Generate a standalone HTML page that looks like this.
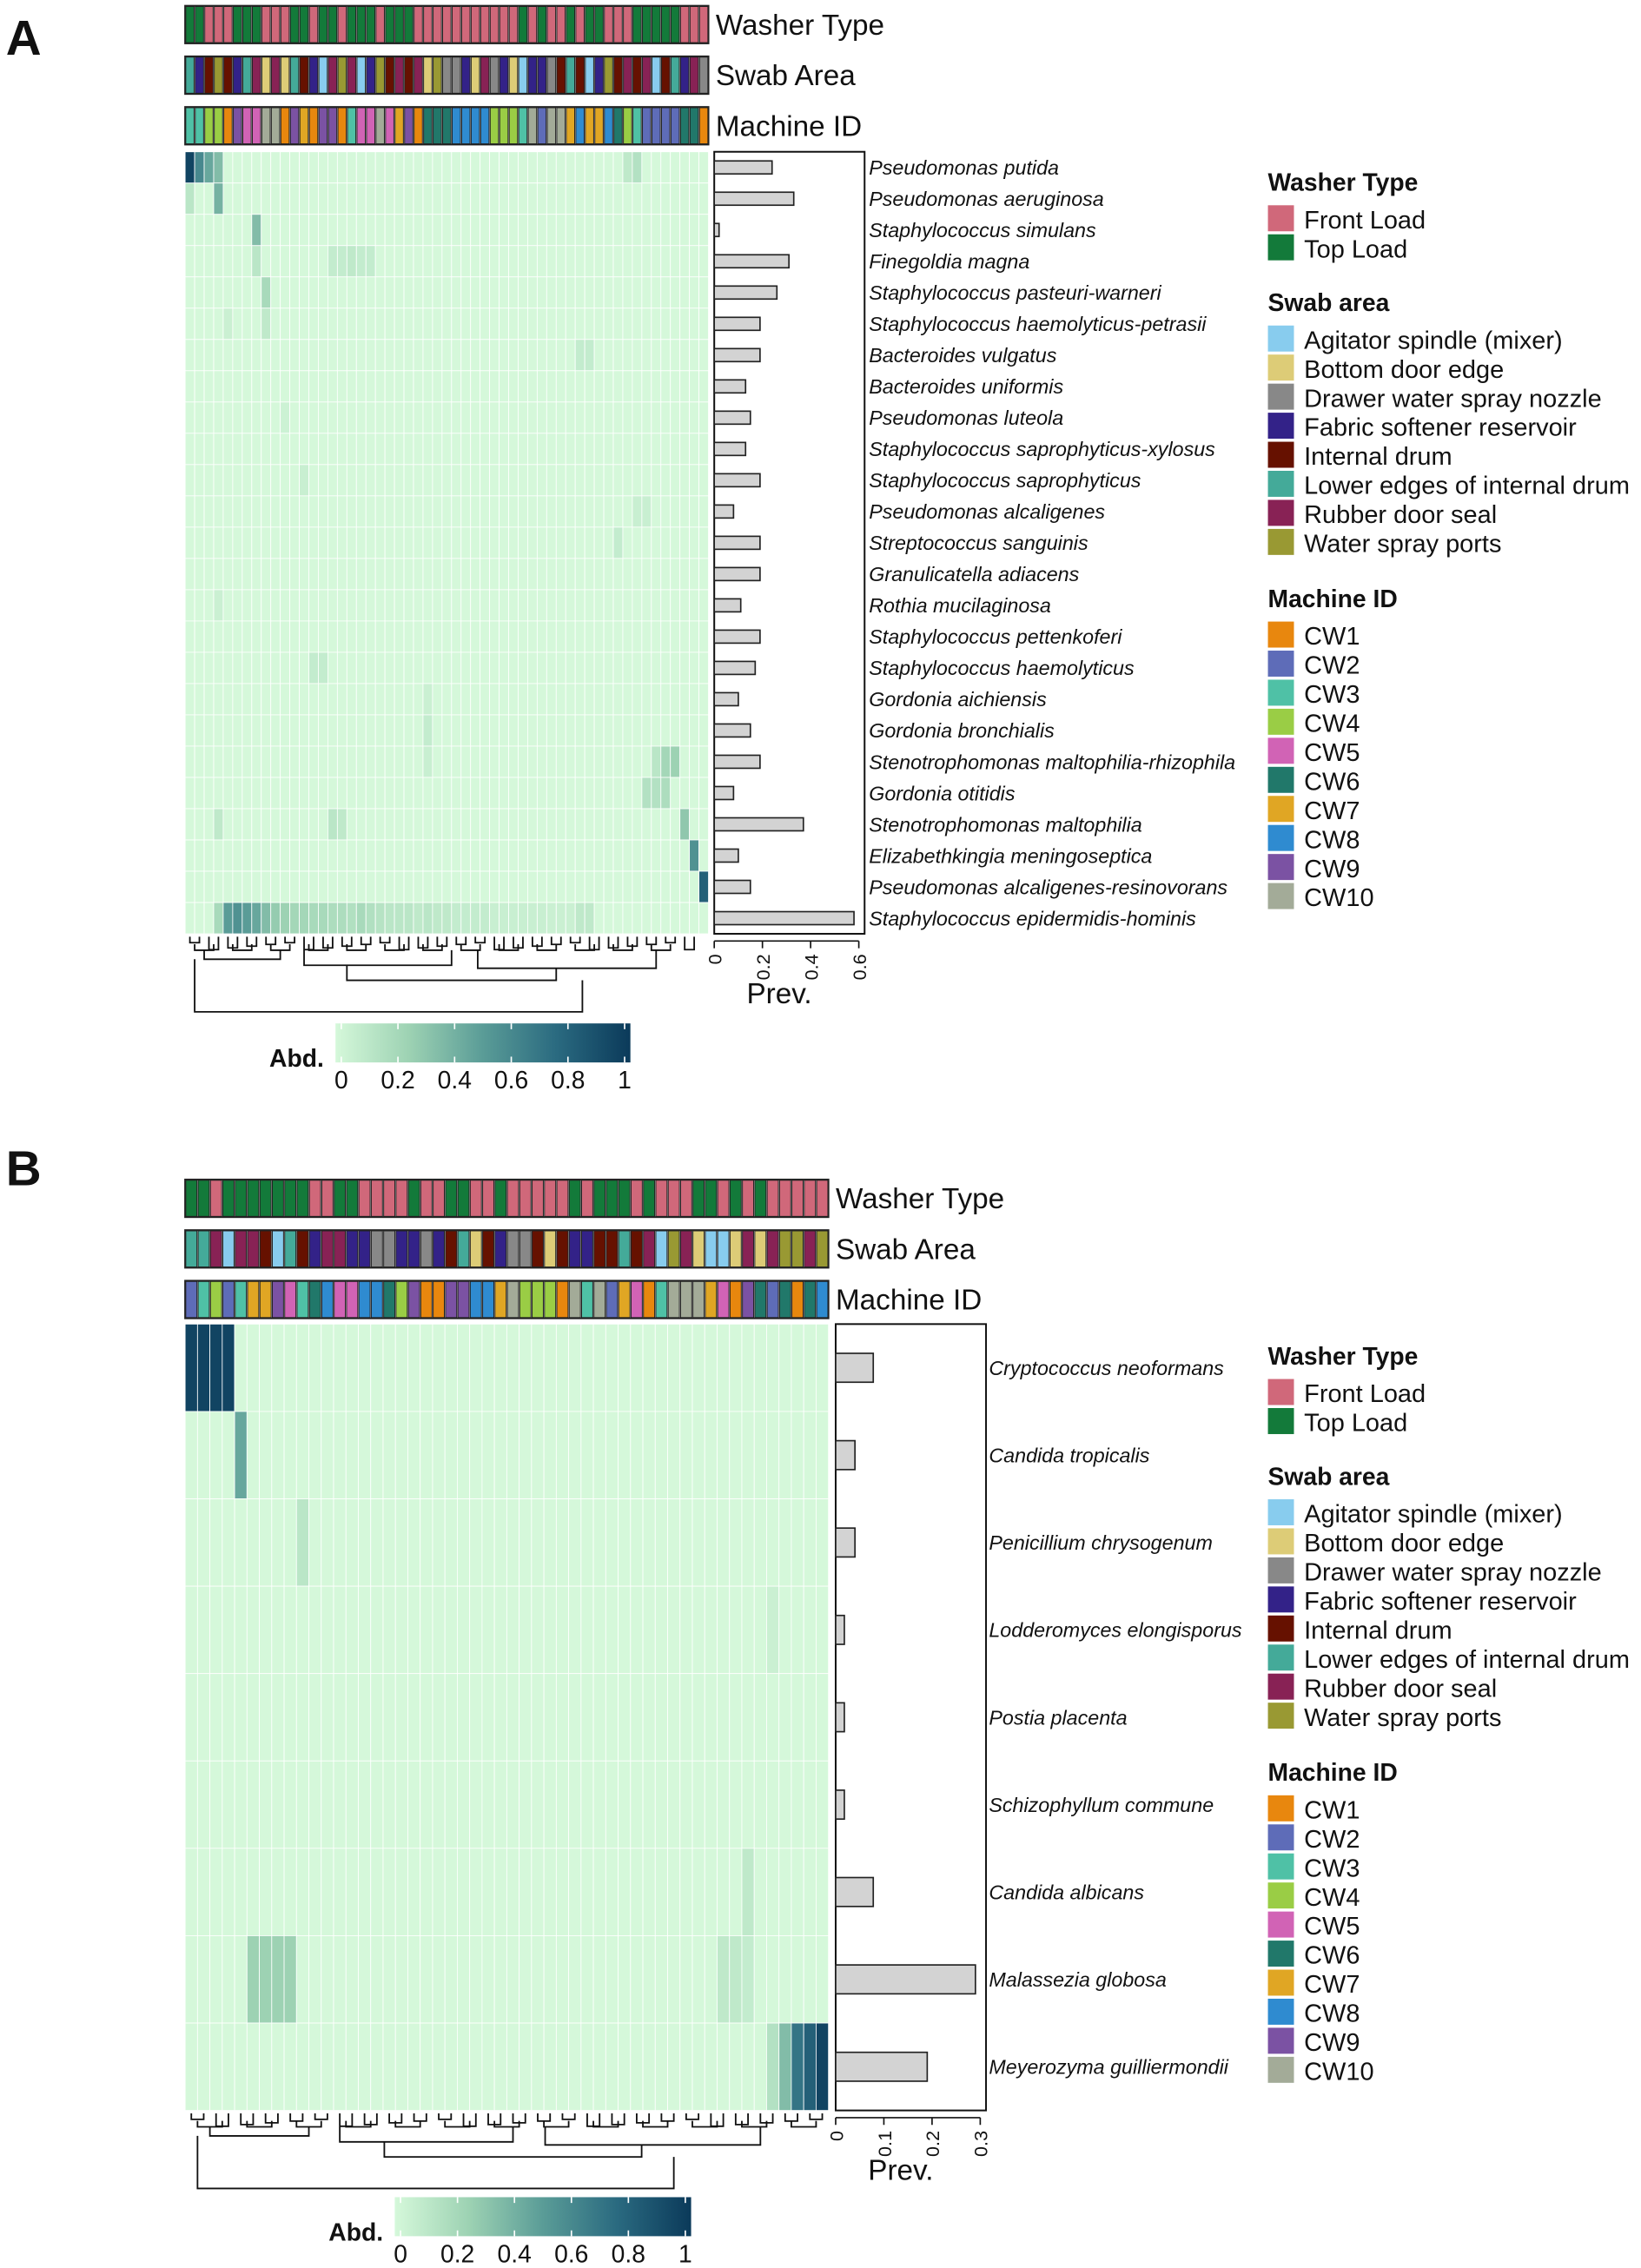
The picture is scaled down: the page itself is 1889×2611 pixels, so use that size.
<!DOCTYPE html>
<html><head><meta charset="utf-8"><style>
html,body{margin:0;padding:0;background:#fff}
svg{display:block}
text{font-family:"Liberation Sans",sans-serif}
</style></head><body>
<svg id="fig" width="1889" height="2611" viewBox="0 0 1135 1569" xmlns="http://www.w3.org/2000/svg">
<defs><linearGradient id="cmap" x1="0" x2="1" y1="0" y2="0">
<stop offset="0" stop-color="#d5f8da"/><stop offset="0.25" stop-color="#9dd2b3"/><stop offset="0.5" stop-color="#5a9c97"/><stop offset="0.75" stop-color="#2a6a80"/><stop offset="1" stop-color="#0b3a5a"/></linearGradient></defs>
<g id="root"></g>
</svg>
<script>
// ---------- data ----------
const speciesA=["Pseudomonas putida","Pseudomonas aeruginosa","Staphylococcus simulans","Finegoldia magna","Staphylococcus pasteuri-warneri","Staphylococcus haemolyticus-petrasii","Bacteroides vulgatus","Bacteroides uniformis","Pseudomonas luteola","Staphylococcus saprophyticus-xylosus","Staphylococcus saprophyticus","Pseudomonas alcaligenes","Streptococcus sanguinis","Granulicatella adiacens","Rothia mucilaginosa","Staphylococcus pettenkoferi","Staphylococcus haemolyticus","Gordonia aichiensis","Gordonia bronchialis","Stenotrophomonas maltophilia-rhizophila","Gordonia otitidis","Stenotrophomonas maltophilia","Elizabethkingia meningoseptica","Pseudomonas alcaligenes-resinovorans","Staphylococcus epidermidis-hominis"];
const prevA=[0.24,0.33,0.02,0.31,0.26,0.19,0.19,0.13,0.15,0.13,0.19,0.08,0.19,0.19,0.11,0.19,0.17,0.10,0.15,0.19,0.08,0.37,0.10,0.15,0.58];
const washerA="GGPPPGGGPPPGGPGGPGGGPGGGPPPPPPPPPPPGPGPPGPGGPPPGGGGGPPP";
const swabA="LFIWIFLRBRBLIFARWRAFWIRIRBWDDFBRDFBAFFDILIAFWIRIRAILFRD";
const machA=[3,3,4,4,1,9,5,5,10,10,1,9,7,1,9,9,1,3,5,5,10,5,7,9,1,6,6,6,8,8,8,8,4,4,4,3,10,2,10,10,7,8,7,7,8,6,4,3,2,2,2,2,6,6,1];
// sparse abundance: [row, col, value]
const abdA=[[0,0,0.95],[0,1,0.6],[0,2,0.45],[0,3,0.35],[0,46,0.1],[0,47,0.15],[1,0,0.12],[1,3,0.4],[2,7,0.35],[3,7,0.12],[3,15,0.08],[3,16,0.08],[3,17,0.1],[3,18,0.08],[3,19,0.08],[4,8,0.2],[5,8,0.1],[5,4,0.05],[6,41,0.08],[6,42,0.08],[8,10,0.04],[10,12,0.06],[11,47,0.06],[11,48,0.06],[12,45,0.08],[14,3,0.05],[16,13,0.08],[16,14,0.08],[17,25,0.05],[18,25,0.08],[19,25,0.06],[19,49,0.12],[19,50,0.22],[19,51,0.25],[20,48,0.15],[20,49,0.15],[20,50,0.18],[21,3,0.1],[21,15,0.12],[21,16,0.1],[21,52,0.3],[22,53,0.55],[23,54,0.8],[24,3,0.2],[24,4,0.5],[24,5,0.55],[24,6,0.5],[24,7,0.45],[24,8,0.35],[24,9,0.28],[24,10,0.25],[24,11,0.22],[24,12,0.22],[24,13,0.2],[24,14,0.2],[24,15,0.18],[24,16,0.18],[24,17,0.16],[24,18,0.2],[24,19,0.16],[24,20,0.14],[24,21,0.12],[24,22,0.12],[24,23,0.12],[24,24,0.1],[24,25,0.12],[24,26,0.1],[24,27,0.1],[24,28,0.08],[24,29,0.08],[24,30,0.08],[24,31,0.08],[24,32,0.06],[24,33,0.06],[24,34,0.06],[24,35,0.06],[24,36,0.06],[24,37,0.06],[24,38,0.05],[24,39,0.05],[24,40,0.05],[24,41,0.1],[24,42,0.1]];
const speciesB=["Cryptococcus neoformans","Candida tropicalis","Penicillium chrysogenum","Lodderomyces elongisporus","Postia placenta","Schizophyllum commune","Candida albicans","Malassezia globosa","Meyerozyma guilliermondii"];
const prevB=[0.078,0.04,0.04,0.018,0.018,0.018,0.078,0.29,0.19];
const washerB="GGPGGGGGGGPPGGPPPPGPPGGPPGPPPPPGPGGGPGPPPGGPGPGPPPPP";
const swabB="LLRARRIALIFRRFFDDFFDFILBIFDDIBIFFIILIRAWRBAABRBRWWRW";
const machB=[2,3,4,2,3,7,7,9,5,3,6,8,5,5,8,8,6,4,9,1,1,9,9,8,8,7,10,4,4,4,1,10,3,10,2,7,5,1,3,10,10,10,7,5,1,9,6,2,6,1,6,8];
const abdB=[[0,0,0.95],[0,1,0.95],[0,2,0.95],[0,3,0.95],[1,4,0.45],[2,9,0.12],[3,47,0.05],[6,45,0.1],[7,5,0.25],[7,6,0.25],[7,7,0.25],[7,8,0.25],[7,43,0.1],[7,44,0.1],[7,45,0.08],[8,47,0.15],[8,48,0.35],[8,49,0.7],[8,50,0.8],[8,51,0.95]];
const cbTicks=[0,0.2,0.4,0.6,0.8,1];
const prevTicksA=[0,0.2,0.4,0.6];
const prevTicksB=[0,0.1,0.2,0.3];
const washerLeg=[["Front Load","#d0687a"],["Top Load","#137a3a"]];
const swabLeg=[["A","Agitator spindle (mixer)","#88ccee"],["B","Bottom door edge","#ddcc77"],["D","Drawer water spray nozzle","#888888"],["F","Fabric softener reservoir","#332288"],["I","Internal drum","#661100"],["L","Lower edges of internal drum","#44aa99"],["R","Rubber door seal","#882255"],["W","Water spray ports","#999933"]];
const machCols=["#e8870e","#5e6cb8","#4fc1a6","#9acd45","#d163b5","#21786a","#e0a624","#2f8bd0","#7b52a3","#a3ab98"];

// ---------- helpers ----------
const NS="http://www.w3.org/2000/svg";
const root=document.getElementById('root');
function mk(tag,attrs,parent,txt){const e=document.createElementNS(NS,tag);for(const k in attrs)e.setAttribute(k,attrs[k]);if(txt!==undefined)e.textContent=txt;(parent||root).appendChild(e);return e;}
const stops=[[0,[213,248,218]],[0.25,[157,210,179]],[0.5,[90,156,151]],[0.75,[42,106,128]],[1,[11,58,90]]];
function cmap(v){v=Math.max(0,Math.min(1,v));for(let i=1;i<stops.length;i++){if(v<=stops[i][0]){const a=stops[i-1],b=stops[i];const t=(v-a[0])/(b[0]-a[0]);const c=a[1].map((x,j)=>Math.round(x+(b[1][j]-x)*t));return `rgb(${c})`;}}return 'rgb(11,58,90)';}
const swabCol={};swabLeg.forEach(s=>swabCol[s[0]]=s[2]);

function panel(cfg){
  const g=mk('g',{});
  
  
  const n=cfg.washer.length, cw=(cfg.x1-cfg.x0)/n, nr=cfg.species.length, rh=(cfg.y1-cfg.y0)/nr;
  const xCol=c=>cfg.x0+c*cw, yRow=r=>cfg.y0+r*rh;
  const ann=[["washer-type-track","Washer Type",c=>cfg.washer[c]==="G"?"#137a3a":"#d0687a"],["swab-area-track","Swab Area",c=>swabCol[cfg.swab[c]]],["machine-id-track","Machine ID",c=>machCols[cfg.mach[c]-1]]];
  ann.forEach((a,i)=>{
    const ay=cfg.annY[i];
    const tg=mk('g',{},g);
    
    
    for(let c=0;c<n;c++){const r=mk('rect',{x:xCol(c)+0.4,y:ay+0.5,width:cw-0.8,height:cfg.annH-1,fill:a[2](c),stroke:'#222','stroke-width':0.6},tg);}
    mk('rect',{x:cfg.x0,y:ay,width:cfg.x1-cfg.x0,height:cfg.annH,fill:'none',stroke:'#222','stroke-width':1.2},tg);
    const t=mk('text',{x:cfg.x1+5,y:ay+cfg.annH/2+7,'font-size':20,fill:'#111'},g,a[1]);
    
    
  });
  const hg=mk('g',{},g);
  
  
  const M=[];for(let r=0;r<nr;r++){M.push(new Array(n).fill(0));}
  cfg.abd.forEach(([r,c,v])=>{if(r<nr&&c<n)M[r][c]=v;});
  for(let r=0;r<nr;r++)for(let c=0;c<n;c++){
    const e=mk('rect',{x:xCol(c),y:yRow(r),width:cw,height:rh,fill:cmap(M[r][c]),stroke:'#fff','stroke-width':0.5},hg);
    
    
  }
  const bx0=cfg.bx0, bw=cfg.bw, pmax=cfg.pTicks[cfg.pTicks.length-1];
  const xP=v=>bx0+v/pmax*bw;
  const bg=mk('g',{},g);
  
  
  mk('rect',{x:bx0,y:cfg.y0,width:bw+4,height:cfg.y1-cfg.y0,fill:'none',stroke:'#111','stroke-width':1.2},bg);
  cfg.prev.forEach((v,r)=>{
    const b=mk('rect',{x:xP(0),y:yRow(r)+rh/2-cfg.bh/2,width:xP(v)-xP(0),height:cfg.bh,fill:'#d3d3d3',stroke:'#222','stroke-width':1},bg);
    
    
    const t=mk('text',{x:cfg.lx,y:yRow(r)+rh/2+5,'font-size':14,'font-style':'italic',fill:'#111'},g,cfg.species[r]);
    
    
  });
  mk('line',{x1:bx0,x2:xP(pmax),y1:cfg.y1+5,y2:cfg.y1+5,stroke:'#111','stroke-width':1},bg);
  cfg.pTicks.forEach(v=>{
    mk('line',{x1:xP(v),x2:xP(v),y1:cfg.y1+5,y2:cfg.y1+10,stroke:'#111'},bg);
    const t=mk('text',{x:0,y:0,'font-size':13,fill:'#111','text-anchor':'end',transform:`translate(${xP(v)+5},${cfg.y1+14}) rotate(-90)`},bg,String(v));
    
    
  });
  const pt=mk('text',{x:xP(pmax/2)-5,y:cfg.y1+48,'font-size':20,fill:'#111','text-anchor':'middle'},g,'Prev.');
  
  
  const dg=mk('g',{stroke:'#111','stroke-width':1.1,fill:'none'},g);
  
  
  const D=cfg.y1+2, H=cfg.dendH;
  function link(c1,c2,h1,h2,h){const xa=xCol(c1+0.5),xb=xCol(c2+0.5);mk('path',{d:`M${xa},${D+h1}V${D+h}H${xb}V${D+h2}`},dg);}
  for(let c=0;c<n-1;c+=2){link(c,c+1,0,0,H*0.08+((c*7)%5)*1.2);}
  for(let c=0;c<n-3;c+=4){link(c+0.5,c+2.5,H*0.1,H*0.1,H*0.18);}
  link(1.5,9.5,H*0.18,H*0.18,H*0.3);
  link(12,n*0.5,H*0.18,H*0.18,H*0.38);
  link(n*0.55,n-6,H*0.18,H*0.18,H*0.42);
  link(n*0.3,n*0.7,H*0.38,H*0.42,H*0.58);
  link(0.5,n*0.75,H*0.3,H*0.58,H);
  const cg=mk('g',{},g);
  
  
  const cx0=cfg.cb[0],cx1=cfg.cb[1],cy=cfg.cb[2];
  mk('rect',{x:cx0,y:cy,width:cx1-cx0,height:27,fill:'url(#cmap)'},cg);
  cbTicks.forEach(v=>{const x=cx0+4+v*(cx1-cx0-8);
    mk('line',{x1:x,x2:x,y1:cy,y2:cy+4,stroke:'#fff'},cg);mk('line',{x1:x,x2:x,y1:cy+23,y2:cy+27,stroke:'#fff'},cg);
    const t=mk('text',{x:x,y:cy+45,'font-size':17,'text-anchor':'middle',fill:'#111'},cg,String(v));
    
    });
  const at=mk('text',{x:cx0-8,y:cy+30,'font-size':17,'font-weight':'bold','text-anchor':'end',fill:'#111'},cg,'Abd.');
  
  
  const lg=mk('g',{},g);
  
  
  let y=cfg.legY;
  function title(s){const t=mk('text',{x:877,y:y,'font-size':17,'font-weight':'bold',fill:'#111'},lg,s);y+=10;}
  function item(s,col){mk('rect',{x:877,y:y,width:18,height:18,fill:col},lg);const t=mk('text',{x:902,y:y+16,'font-size':17.4,fill:'#111'},lg,s);y+=20.1;}
  title('Washer Type');washerLeg.forEach(w=>item(w[0],w[1]));y+=33;
  title('Swab area');swabLeg.forEach(s=>item(s[1],s[2]));y+=34;
  title('Machine ID');machCols.forEach((c,i)=>item('CW'+(i+1),c));
  const pl=mk('text',{x:4,y:cfg.letterY,'font-size':34,'font-weight':'bold',fill:'#111'},g,cfg.letter);
  
  
}
panel({name:'panel-a',letter:'A',letterY:38,species:speciesA,prev:prevA,washer:washerA,swab:swabA,mach:machA,abd:abdA,
  x0:128,x1:490,y0:105,y1:646,annY:[4,39,74],annH:26,bx0:494,bw:100,bh:9,pTicks:prevTicksA,lx:601,dendH:52,cb:[232,436,708],legY:132});
panel({name:'panel-b',letter:'B',letterY:820,species:speciesB,prev:prevB,washer:washerB,swab:swabB,mach:machB,abd:abdB,
  x0:128,x1:573,y0:916,y1:1460,annY:[816,851,886],annH:26,bx0:578,bw:100,bh:20,pTicks:prevTicksB,lx:684,dendH:52,cb:[273,478,1520],legY:944});
</script>
</body></html>
